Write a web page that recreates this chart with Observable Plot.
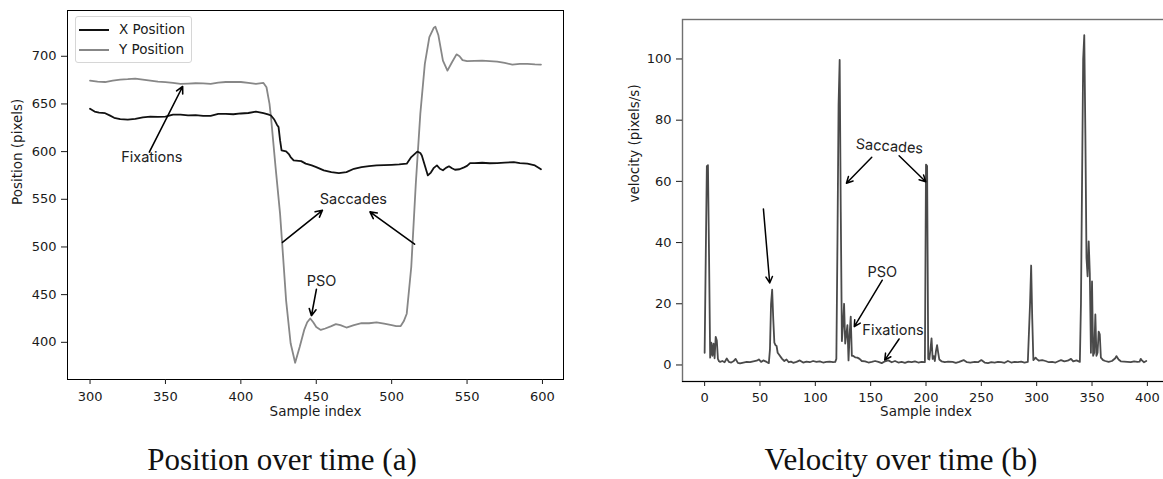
<!DOCTYPE html>
<html><head><meta charset="utf-8">
<script src="https://cdn.jsdelivr.net/npm/d3@7"></script>
<script src="https://cdn.jsdelivr.net/npm/@observablehq/plot@0.6"></script>
<style>
html,body{margin:0;padding:0;background:#fff;overflow:hidden;width:1163px;height:479px;}
#wrap{position:relative;width:1163px;height:479px;overflow:hidden;}
.chart{position:absolute;top:0;}
.cap{position:absolute;top:444px;width:400px;text-align:center;font-family:"Liberation Serif",serif;font-size:31px;line-height:31px;color:#111;white-space:nowrap;}
.legend{position:absolute;left:75px;top:16px;width:115px;height:45px;border:1px solid #d6d6d6;border-radius:3px;background:rgba(255,255,255,0.85);font-family:"DejaVu Sans",sans-serif;font-size:13.5px;color:#1a1a1a;}
.legend .sw{position:absolute;left:3px;width:30px;height:0;border-top:2px solid #000;}
.legend .lb{position:absolute;left:43px;line-height:16px;white-space:nowrap;}
</style></head><body>
<div id="wrap">
  <div id="a" class="chart" style="left:0;width:580px;"></div>
  <div id="b" class="chart" style="left:580px;width:589px;"></div>
  <div class="legend">
    <div class="sw" style="top:12px;border-color:#111;"></div><div class="lb" style="top:4px;">X Position</div>
    <div class="sw" style="top:32px;border-color:#878787;"></div><div class="lb" style="top:24px;">Y Position</div>
  </div>
  <div class="cap" style="left:82px;">Position over time (a)</div>
  <div class="cap" style="left:701px;">Velocity over time (b)</div>
</div>
<script>
// ---------- (a) Position over time ----------
const posXTicks = [300, 350, 400, 450, 500, 550, 600];
const posYTicks = [400, 450, 500, 550, 600, 650, 700];

const posXIdx = [300,303,306,310,313,316,320,325,330,335,340,345,350,355,360,365,370,375,380,385,390,395,400,405,410,415,418,420,422,424,425,426,427,430,432,433,435,440,443,447,450,455,460,465,470,475,480,485,490,495,500,505,510,513,517,519,520,522,524,526,528,530,532,534,536,538,540,542,545,548,550,552,555,560,565,570,575,581,585,590,595,599];
const posXVal = [644.9,642,641,640.3,638,635.5,634,633.5,634.4,636,636.8,636.5,636.8,638.9,638.9,638,638.2,637.5,637.5,639.6,639.6,639.2,640,640.5,642,640.3,639,637.9,634,628,625.7,612,601.3,600.2,597,594.3,590.8,590,587.4,585.5,583.8,580.3,578.5,577.5,578.5,582,583.8,584.8,585.5,585.8,586.2,586.6,587.3,594.3,600,598.5,596,585.5,575,578,583,585.6,582,580.4,583,584.6,582.5,581,581.5,583.5,585,588,588,588.3,587.8,588,588.5,589,588,587.3,585.5,581.5];

const posYIdx = [300,305,310,315,320,325,330,335,340,345,350,355,360,365,370,375,380,385,390,395,400,405,410,415,417,419,420,423,426,428,430,433,436,439,442,444,446,448,450,453,456,460,463,466,470,475,480,485,490,495,500,503,506,508,510,513,516,519,522,525,528,529,531,534,537,540,543,545,547,550,555,560,565,570,575,580,585,590,595,599];
const posYVal = [674.5,673.5,673,674.5,675.6,676,676.6,675.5,674.5,673.5,672.8,672,671,671.3,671.7,671.5,671,672.3,673,673,673,672,671,672,667.5,650,636,584,535,490,444,399,378.6,395,413,421,425,421,416,413,414.5,417,419,418,415.5,418,420,420,421,419.5,418,417,417,422,430,479,566,639.6,692,720,730,731,722,695.5,685,693.7,702,700,696,694.8,695.2,695.5,695,694.4,693,691.3,692,692,691.5,691.3];

const posNoteText = ["Fixations", "Saccades", "PSO"];
const posNoteX = [341, 474.6, 453.5];
const posNoteY = [594.3, 549.7, 463.5];

const posArrowX1 = [339.3, 427.6, 515.2, 450.1];
const posArrowY1 = [599.5, 504.7, 502.9, 455.6];
const posArrowX2 = [361.4, 454.1, 485.6, 446.8];
const posArrowY2 = [668.3, 538.5, 536.8, 427.9];

// ---------- (b) Velocity over time ----------
const velXTicks = [0, 50, 100, 150, 200, 250, 300, 350, 400];
const velYTicks = [0, 20, 40, 60, 80, 100];

const velIdx = [0,1,2,3,4,5,6,7,8,9,10,11,12,13,14,16,18,20,22,24,26,28,30,32,35,38,41,44,47,49,51,53,56,58,59,60,61,62,63,64,65,66,67,70,72,74,76,78,80,83,86,89,92,95,98,101,104,107,110,113,116,118,119,120,121,122,123,124,125,126,127,128,129,130,131,132,133,134,136,138,140,142,145,148,151,154,157,160,163,166,169,172,175,178,181,184,187,190,193,196,199,200,201,202,203,204,205,206,207,208,209,210,211,212,214,217,220,224,227,230,234,237,240,244,247,250,253,256,259,262,265,268,271,274,277,280,283,286,289,292,294,295,296,297,299,300,302,305,308,311,314,317,320,322,325,328,331,333,336,339,340,341,342,343,344,345,346,347,348,349,350,351,352,353,354,355,356,357,358,360,362,365,368,371,372,374,376,379,382,385,388,391,393,394,395,397,399];
const velVal = [4.0,35,65,65.3,35,2.4,7.3,3,7,2.2,9.2,8,2,1.2,1.0,1.3,0.9,2.1,1.0,0.8,1.2,2.0,0.7,0.5,0.8,1.0,0.9,1.2,1.4,1.8,1.0,1.5,1.0,0.6,5,20,24.6,15,7.3,6.5,6.2,4,3.5,2.0,1.3,1.8,0.9,1.1,0.7,1.0,1.5,0.8,1.1,0.9,1.3,1.0,1.2,0.8,1.0,1.1,0.9,1.0,2,40,85,99.7,50,7.8,13,20,7,10,13,1.5,10,15.8,3,3,2.5,2.4,2.0,1.3,1.2,0.8,1.0,1.3,1.0,0.6,1.2,1.5,0.9,1.3,0.8,1.0,0.7,1.1,0.9,1.2,0.8,1.0,0.9,65.5,65,2,1.8,5,8.7,2,2.9,1.3,4.5,6.5,4,1.8,1.2,0.9,1.1,1.0,0.7,1.0,1.6,0.9,0.8,1.0,0.9,1.6,0.8,0.6,0.9,0.8,1.0,0.9,0.7,1.3,0.8,1.0,0.9,1.1,0.8,1.0,20,32.5,15,1.6,2.4,2.0,1.4,1.6,1.3,0.9,1.0,0.8,1.3,1.6,1.2,1.4,2.0,1.2,1.5,1.0,20,60,100,107.8,75,35,29,40.4,30,4,27.3,3,4,16.5,3,4,10.9,10,2.4,1.6,1.3,1.0,1.3,2.2,2.9,1.8,1.2,1.1,1.0,0.9,1.2,1.0,1.1,2.0,1.5,0.9,1.3];

const velNoteText = ["Saccades", "PSO", "Fixations"];
const velNoteX = [167, 160.5, 170.2];
const velNoteY = [71.4, 30.2, 11.4];

const velArrowX1 = [151, 175.7, 160.5, 175.7, 53.1];
const velArrowY1 = [67.9, 68.4, 27.7, 8.5, 51];
const velArrowX2 = [128.1, 199.8, 135.2, 162.7, 58.8];
const velArrowY2 = [59.4, 59.9, 12.5, 1.6, 26.8];

// ---------- build tables ----------
const xRows = posXIdx.map((i, k) => ({i, v: posXVal[k]}));
const yRows = posYIdx.map((i, k) => ({i, v: posYVal[k]}));
const posNotes = posNoteText.map((t, k) => ({t, x: posNoteX[k], y: posNoteY[k]}));
const posArrows = posArrowX1.map((x1, k) => ({x1, y1: posArrowY1[k], x2: posArrowX2[k], y2: posArrowY2[k]}));
const velRows = velIdx.map((i, k) => ({i, v: velVal[k]}));
const velNotes = velNoteText.map((t, k) => ({t, x: velNoteX[k], y: velNoteY[k]}));
const velArrows = velArrowX1.map((x1, k) => ({x1, y1: velArrowY1[k], x2: velArrowX2[k], y2: velArrowY2[k]}));

const baseStyle = {fontFamily: "DejaVu Sans, sans-serif", fontSize: "13px", color: "#1a1a1a", background: "transparent", maxWidth: "none", overflow: "visible"};
const noteFont = {fontFamily: "Inter, sans-serif", fontSize: 14.5, fill: "#222"};

const posXDomain = [285.05, 613.95];
const posYDomain = [361, 748];

const chartA = Plot.plot({
  width: 580, height: 430,
  marginLeft: 67, marginRight: 17, marginTop: 10, marginBottom: 51,
  style: baseStyle,
  x: {domain: posXDomain},
  y: {domain: posYDomain},
  marks: [
    Plot.frame({stroke: "#000", strokeWidth: 1}),
    Plot.axisX({ticks: posXTicks, tickSize: 5, tickPadding: 7, label: null, tickFormat: d => String(d)}),
    Plot.axisY({ticks: posYTicks, tickSize: 6, tickPadding: 5, label: null, tickFormat: d => String(d)}),
    Plot.line(yRows, {x: "i", y: "v", stroke: "#878787", strokeWidth: 1.8}),
    Plot.line(xRows, {x: "i", y: "v", stroke: "#111", strokeWidth: 1.8}),
    Plot.arrow(posArrows, {x1: "x1", y1: "y1", x2: "x2", y2: "y2", stroke: "#000", strokeWidth: 1.6, headLength: 7, headAngle: 55}),
    Plot.text(posNotes, {x: "x", y: "y", text: "t", ...noteFont}),
    Plot.text(["Sample index"], {frameAnchor: "bottom", dy: 36.5, text: d => d, fontSize: 13.5}),
    Plot.text(["Position (pixels)"], {frameAnchor: "left", dx: -50, dy: 10, rotate: -90, text: d => d, fontSize: 13.5})
  ]
});
document.getElementById("a").appendChild(chartA);

const velXDomain = [-20, 420];
const velYDomain = [-5.4, 112.9];

const chartB = Plot.plot({
  width: 589, height: 430,
  marginLeft: 102, marginRight: 0, marginTop: 19, marginBottom: 49,
  style: baseStyle,
  x: {domain: velXDomain},
  y: {domain: velYDomain},
  marks: [
    Plot.frame({stroke: "#707070", strokeWidth: 1.4}),
    Plot.ruleY([velYDomain[0]], {stroke: "#000", strokeWidth: 1}),
    Plot.axisX({ticks: velXTicks, tickSize: 5, tickPadding: 6, label: null, tickFormat: d => String(d)}),
    Plot.axisY({ticks: velYTicks, tickSize: 6, tickPadding: 5, label: null, tickFormat: d => String(d)}),
    Plot.line(velRows, {x: "i", y: "v", stroke: "#4a4a4a", strokeWidth: 1.8}),
    Plot.arrow(velArrows, {x1: "x1", y1: "y1", x2: "x2", y2: "y2", stroke: "#000", strokeWidth: 1.5, headLength: 7, headAngle: 55}),
    Plot.text(velNotes.filter(d => d.t === "Saccades"), {x: "x", y: "y", text: "t", rotate: 4, ...noteFont}),
    Plot.text(velNotes.filter(d => d.t !== "Saccades"), {x: "x", y: "y", text: "t", ...noteFont}),
    Plot.text(["Sample index"], {frameAnchor: "bottom", dy: 34.7, text: d => d, fontSize: 13.5}),
    Plot.text(["velocity (pixels/s)"], {frameAnchor: "left", dx: -48, dy: 2, rotate: -90, text: d => d, fontSize: 13.5})
  ]
});
document.getElementById("b").appendChild(chartB);
</script>
</body></html>
